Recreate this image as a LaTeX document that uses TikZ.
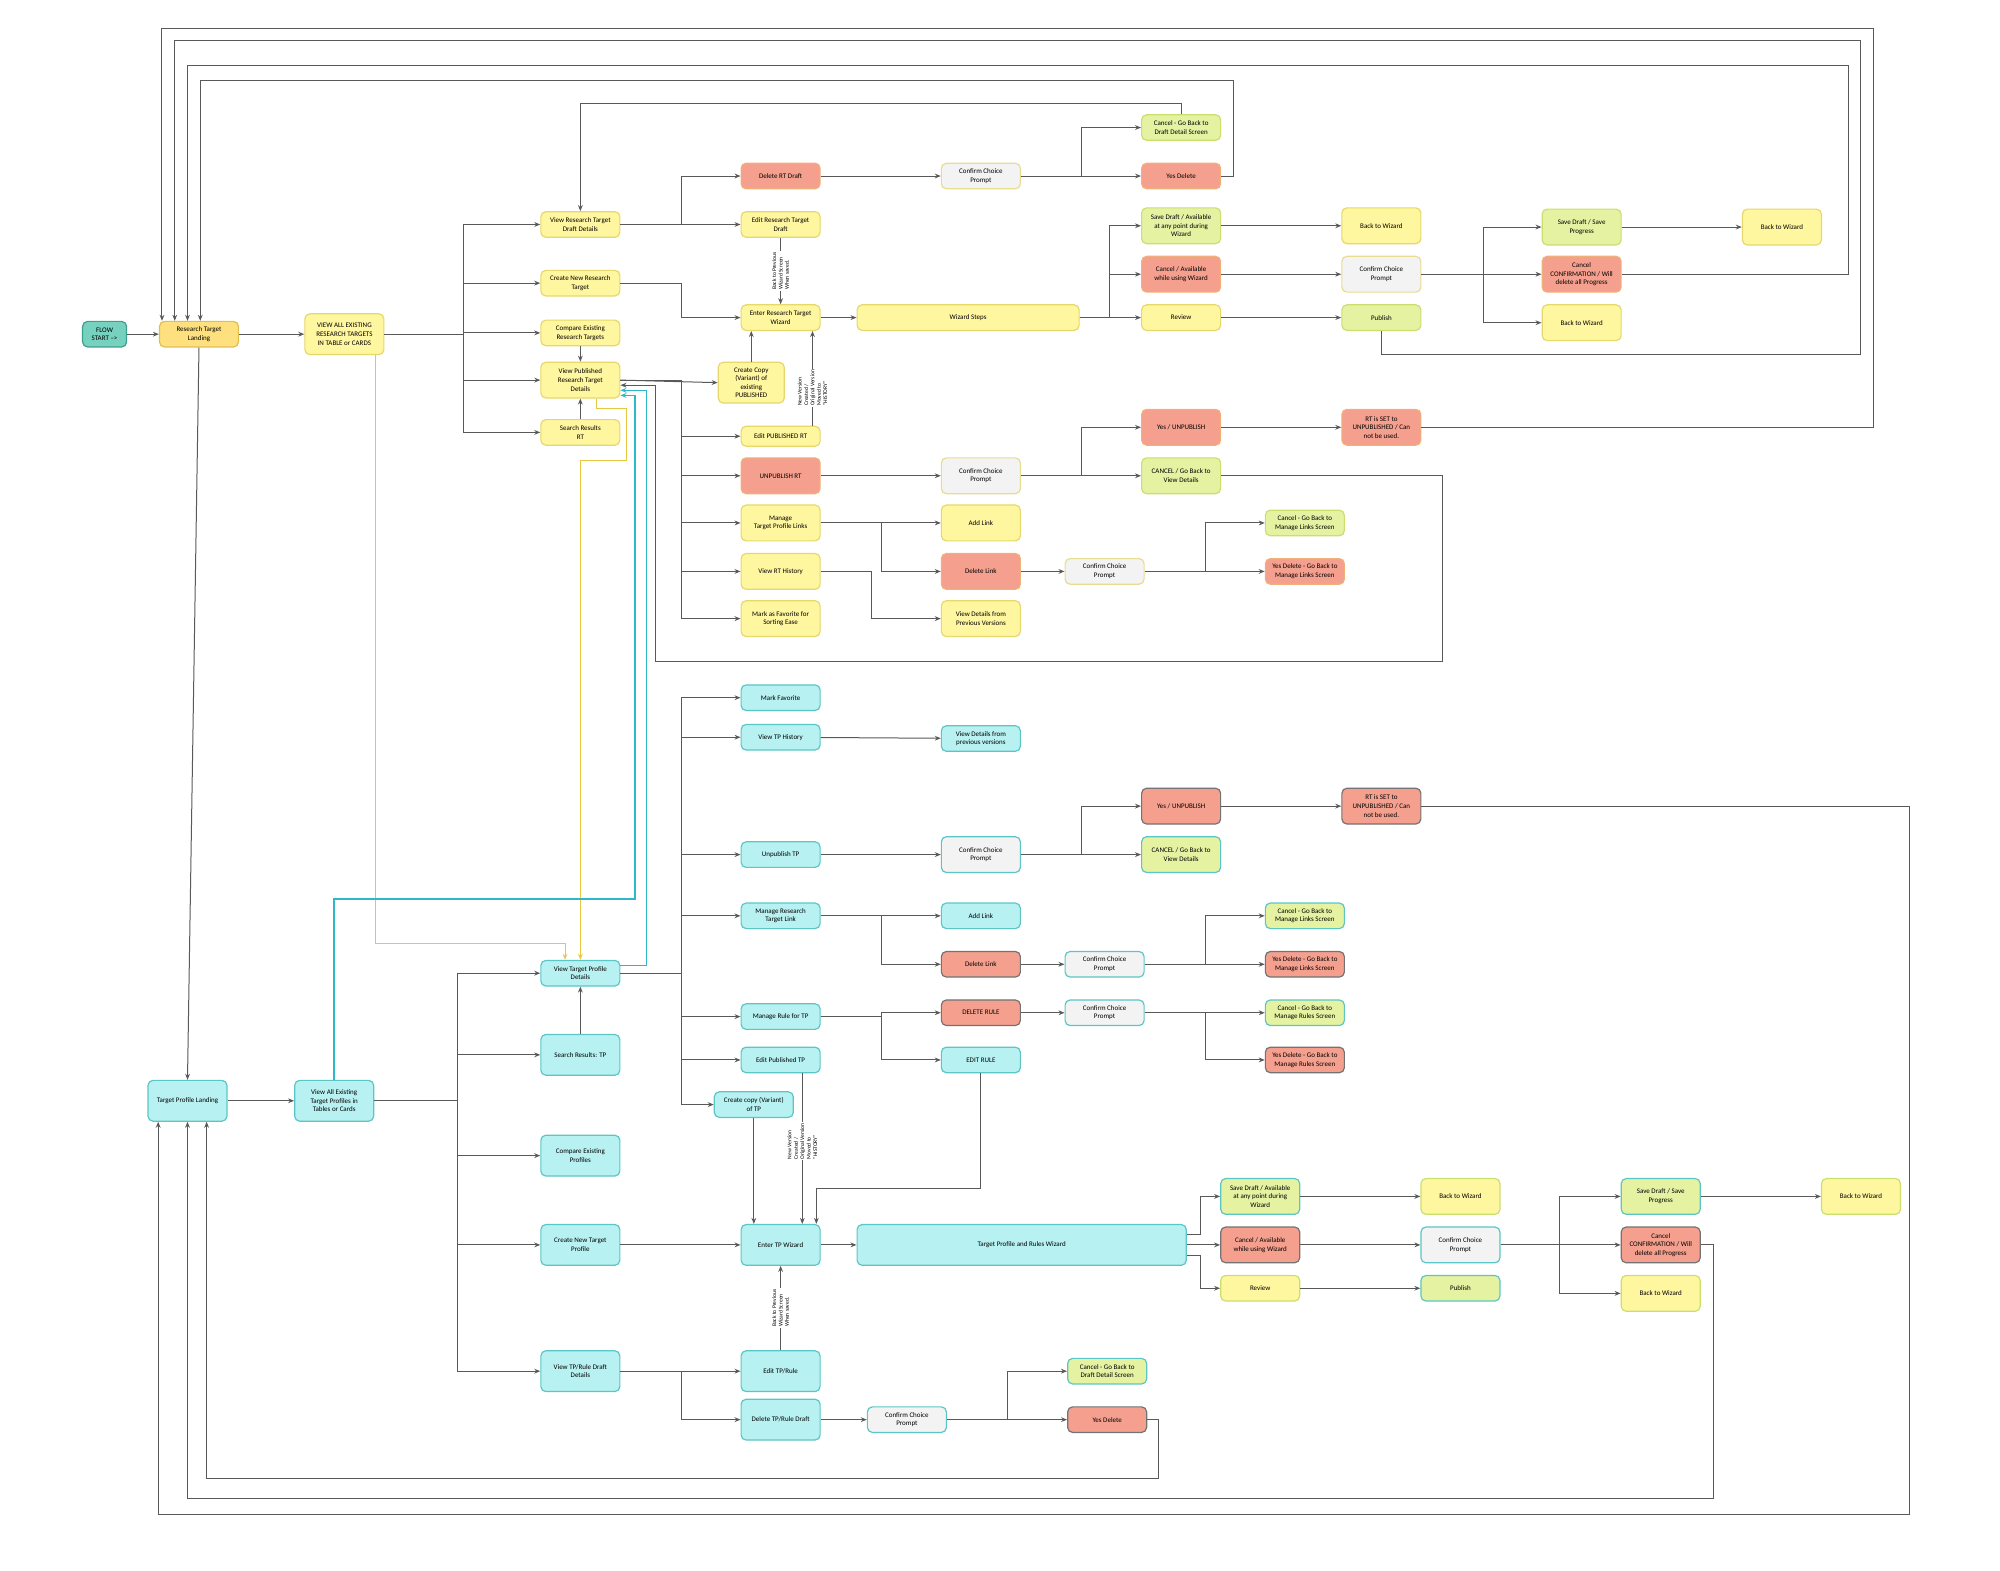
\documentclass[tikz,border=0pt]{standalone}
\usepackage{fontspec}
\setmainfont{Carlito}
\usetikzlibrary{arrows.meta,calc}
\definecolor{cYe}{HTML}{FFF6A0}\definecolor{cYeD}{HTML}{E6D86A}
\definecolor{cOr}{HTML}{FFE07F}\definecolor{cOrD}{HTML}{E2BE50}
\definecolor{cRd}{HTML}{F5A08E}\definecolor{cRdD}{HTML}{F0B07A}
\definecolor{cGr}{HTML}{E4F2A2}\definecolor{cGrD}{HTML}{C9DF6E}
\definecolor{cGy}{HTML}{F3F3F3}\definecolor{cGyD}{HTML}{E8DC90}
\definecolor{cTl}{HTML}{B8F1F1}\definecolor{cTlD}{HTML}{5CC6C6}
\definecolor{cFs}{HTML}{76D1BF}\definecolor{cFsD}{HTML}{3F9E8E}
\definecolor{cYl}{HTML}{E8C840}\definecolor{cTa}{HTML}{2CB8C8}
\newcommand\fs{\fontsize{3.5}{4.3}\selectfont}
\newcommand\fanx[3]{\draw[arr] (#1.east) -- (#2 |- #1.east) |- (#3.west);}
\tikzset{
 b/.style={draw, rounded corners=2.5pt, line width=0.6pt, align=center, font=\fs, inner sep=0.5pt, minimum width=39.5pt, minimum height=12.8pt},
 m/.style={minimum height=17.9pt}, l/.style={minimum height=20.4pt},
 ye/.style={b, fill=cYe, draw=cYeD}, orr/.style={b, fill=cOr, draw=cOrD},
 rd/.style={b, fill=cRd, draw=cRdD}, rdk/.style={b, fill=cRd, draw=black!55},
 gr/.style={b, fill=cGr, draw=cGrD}, grt/.style={b, fill=cGr, draw=cTlD},
 gy/.style={b, fill=cGy, draw=cGyD}, gyt/.style={b, fill=cGy, draw=cTlD},
 tl/.style={b, fill=cTl, draw=cTlD},
 arr/.style={-{Stealth[length=3pt,width=2.4pt]}, line width=0.5pt, draw=black!65},
 lab/.style={font=\fontsize{2.8}{3.2}\selectfont, align=left, rotate=90, fill=white, inner sep=0.5pt}
}
\begin{document}
\begin{tikzpicture}[x=0.6378pt,y=-0.6378pt]
\useasboundingbox (0,0) rectangle (1568,1231);
\foreach \n/\x in {T1/363,T2/534,T3/848,T4/870,T5/1163,T6/691,T7/945,T8/359,T9/790,T10/941,T11/1223,T12/683,X637/637,X629/629,X640/640,Y1/294,r1/127,r2/137,r3/147,r4/157,q1/124,q2/162,X443/443,X468/468,X591/591}
  \coordinate (\n) at (\x,0);
% ---------- top ----------
\node[b, fill=cFs, draw=cFsD, minimum width=22pt] (fs) at (82,262) {FLOW\\START -->};
\node[orr] (rtl) at (156,262) {Research Target\\Landing};
\node[ye,l] (va) at (270,262) {VIEW ALL EXISTING\\RESEARCH TARGETS\\IN TABLE or CARDS};
\node[ye] (vrtd) at (455,176) {View Research Target\\Draft Details};
\node[ye] (cnrt) at (455,222) {Create New Research\\Target};
\node[ye] (cert) at (455,261) {Compare Existing\\Research Targets};
\node[ye,m] (vprt) at (455,298) {View Published\\Research Target\\Details};
\node[ye] (srrt) at (455,339) {Search Results\\RT};
\node[rd] (delrt) at (612,138) {Delete RT Draft};
\node[ye] (editrtd) at (612,176) {Edit Research Target\\Draft};
\node[ye] (ertw) at (612,249) {Enter Research Target\\Wizard};
\node[ye,l,minimum width=33pt] (ccopy) at (589,300) {Create Copy\\(Variant) of\\existing\\PUBLISHED};
\node[ye,minimum height=10pt] (editpub) at (612,342) {Edit PUBLISHED RT};
\node[rd,m] (unpub) at (612,373) {UNPUBLISH RT};
\node[ye,m] (mtpl) at (612,410) {Manage\\Target Profile Links};
\node[ye,m] (vrth) at (612,448) {View RT History};
\node[ye,m] (fav) at (612,485) {Mark as Favorite for\\Sorting Ease};
\node[gy] (conf1) at (769,138) {Confirm Choice\\Prompt};
\node[ye,minimum width=111pt] (wiz) at (759,249) {Wizard Steps};
\node[gy,m] (conf2) at (769,373) {Confirm Choice\\Prompt};
\node[ye,m] (addlink) at (769,410) {Add Link};
\node[rd,m] (dellink) at (769,448) {Delete Link};
\node[ye,m] (vdpv) at (769,485) {View Details from\\Previous Versions};
\node[gy] (conf3) at (866,448) {Confirm Choice\\Prompt};
\node[gr] (cancelgb) at (926,100) {Cancel - Go Back to\\Draft Detail Screen};
\node[rd] (yesdel) at (926,138) {Yes Delete};
\node[gr,m] (savedraft) at (926,177) {Save Draft / Available\\at any point during\\Wizard};
\node[rd,m] (cancelav) at (926,215) {Cancel / Available\\while using Wizard};
\node[ye] (review) at (926,249) {Review};
\node[rd,m] (yesunpub) at (926,335) {Yes / UNPUBLISH};
\node[gr,m] (cancelunpub) at (926,373) {CANCEL / Go Back to\\View Details};
\node[gr] (cgml) at (1023,410) {Cancel - Go Back to\\Manage Links Screen};
\node[rd] (ydml) at (1023,448) {Yes Delete - Go Back to\\Manage Links Screen};
\node[ye,m] (btw1) at (1083,177) {Back to Wizard};
\node[gy,m] (conf4) at (1083,215) {Confirm Choice\\Prompt};
\node[gr] (publish) at (1083,249) {Publish};
\node[rd,m] (rtset) at (1083,335) {RT is SET to\\UNPUBLISHED / Can\\not be used.};
\node[gr,m] (sdsp) at (1240,178) {Save Draft / Save\\Progress};
\node[rd,m] (cconf) at (1240,215) {Cancel\\CONFIRMATION / Will\\delete all Progress};
\node[ye,m] (btw2) at (1240,253) {Back to Wizard};
\node[ye,m] (btw3) at (1397,178) {Back to Wizard};
% ---------- bottom ----------
\node[tl,l] (tpl) at (147,863) {Target Profile Landing};
\node[tl,l] (vaetp) at (262,863) {View All Existing\\Target Profiles in\\Tables or Cards};
\node[tl] (vtpd) at (455,763) {View Target Profile\\Details};
\node[tl,l] (srtp) at (455,827) {Search Results: TP};
\node[tl,l] (cep) at (455,906) {Compare Existing\\Profiles};
\node[tl,l] (cntp) at (455,976) {Create New Target\\Profile};
\node[tl,l] (vtprd) at (455,1075) {View TP/Rule Draft\\Details};
\node[tl] (markfav) at (612,547) {Mark Favorite};
\node[tl] (vtph) at (612,578) {View TP History};
\node[tl] (unpubtp) at (612,670) {Unpublish TP};
\node[tl] (mrtl) at (612,718) {Manage Research\\Target Link};
\node[tl] (mrtp) at (612,797) {Manage Rule for TP};
\node[tl] (eptp) at (612,831) {Edit Published TP};
\node[tl] (cctp) at (591,866) {Create copy (Variant)\\of TP};
\node[tl,l] (entertp) at (612,976) {Enter TP Wizard};
\node[tl,l] (edittpr) at (612,1075) {Edit TP/Rule};
\node[tl,l] (deltpr) at (612,1113) {Delete TP/Rule Draft};
\node[tl] (vdpv2) at (769,579) {View Details from\\previous versions};
\node[gyt,m] (conf5) at (769,670) {Confirm Choice\\Prompt};
\node[tl] (addlink2) at (769,718) {Add Link};
\node[rdk] (dellink2) at (769,756) {Delete Link};
\node[rdk] (delrule) at (769,794) {DELETE RULE};
\node[tl] (editrule) at (769,831) {EDIT RULE};
\node[tl,l,minimum width=164.6pt] (tprw) at (801,976) {Target Profile and Rules Wizard};
\node[gyt] (conf6) at (866,756) {Confirm Choice\\Prompt};
\node[gyt] (conf7) at (866,794) {Confirm Choice\\Prompt};
\node[rdk,m] (yesunpub2) at (926,632) {Yes / UNPUBLISH};
\node[grt,m] (cancelunpub2) at (926,670) {CANCEL / Go Back to\\View Details};
\node[rdk,m] (rtset2) at (1083,632) {RT is SET to\\UNPUBLISHED / Can\\not be used.};
\node[grt] (cgml2) at (1023,718) {Cancel - Go Back to\\Manage Links Screen};
\node[rdk] (ydml2) at (1023,756) {Yes Delete - Go Back to\\Manage Links Screen};
\node[grt] (cgmr) at (1023,794) {Cancel - Go Back to\\Manage Rules Screen};
\node[rdk] (ydmr) at (1023,831) {Yes Delete - Go Back to\\Manage Rules Screen};
\node[grt,m] (savedraft2) at (988,938) {Save Draft / Available\\at any point during\\Wizard};
\node[rdk,m] (cancelav2) at (988,976) {Cancel / Available\\while using Wizard};
\node[ye,draw=cGrD] (review2) at (988,1010) {Review};
\node[ye,m,draw=cGrD] (btw4) at (1145,938) {Back to Wizard};
\node[gyt,m] (conf8) at (1145,976) {Confirm Choice\\Prompt};
\node[grt] (publish2) at (1145,1010) {Publish};
\node[grt,m] (sdsp2) at (1302,938) {Save Draft / Save\\Progress};
\node[rdk,m] (cconf2) at (1302,976) {Cancel\\CONFIRMATION / Will\\delete all Progress};
\node[ye,m,draw=cGrD] (btw5) at (1302,1014) {Back to Wizard};
\node[ye,m,draw=cGrD] (btw6) at (1459,938) {Back to Wizard};
\node[gyt] (conf9) at (711,1113) {Confirm Choice\\Prompt};
\node[grt] (cgdd2) at (868,1075) {Cancel - Go Back to\\Draft Detail Screen};
\node[rdk] (yesdel2) at (868,1113) {Yes Delete};
% ---------- top connectors ----------
\draw[arr] (fs) -- (rtl);
\draw[arr] (rtl) -- (va);
\foreach \t in {vrtd,cnrt,cert,vprt,srrt} {\fanx{va}{T1}{\t}}
\fanx{vrtd}{T2}{delrt} \fanx{vrtd}{T2}{editrtd}
\fanx{cnrt}{T2}{ertw}
\draw[arr] (cert) -- (vprt);
\draw[arr] (srrt) -- (vprt);
\draw[arr] (editrtd) -- (ertw) node[lab, midway] {Back to Previous\\Wizard Screen\\When saved.};
\draw[arr] (ccopy.north) -- (ccopy.north |- ertw.south);
\draw[arr] (X637 |- editpub.north) -- (X637 |- ertw.south) node[lab, pos=0.4] {New Version\\Created /\\Original Version\\Moved to\\"HISTORY"};
\draw[arr] (vprt.east) -- (ccopy.west);
\foreach \t in {editpub,unpub,mtpl,vrth,fav} {\fanx{vprt}{T2}{\t}}
\draw[arr] (delrt) -- (conf1);
\fanx{conf1}{T3}{cancelgb} \fanx{conf1}{T3}{yesdel}
\draw[arr] (ertw) -- (wiz);
\fanx{wiz}{T4}{savedraft} \fanx{wiz}{T4}{cancelav} \fanx{wiz}{T4}{review}
\draw[arr] (savedraft) -- (btw1);
\draw[arr] (cancelav) -- (conf4);
\draw[arr] (review) -- (publish);
\fanx{conf4}{T5}{sdsp} \fanx{conf4}{T5}{cconf} \fanx{conf4}{T5}{btw2}
\draw[arr] (sdsp) -- (btw3);
\draw[arr] (unpub) -- (conf2);
\fanx{conf2}{T3}{yesunpub} \fanx{conf2}{T3}{cancelunpub}
\draw[arr] (yesunpub) -- (rtset);
\draw[arr] (mtpl) -- (addlink);
\fanx{mtpl}{T6}{dellink}
\draw[arr] (dellink) -- (conf3);
\fanx{conf3}{T7}{cgml} \fanx{conf3}{T7}{ydml}
\fanx{vrth}{T12}{vdpv}
% loops
\draw[arr] (rtset.east) -- (1469,335) -- (1469,22) -- (127,22) -- (r1 |- rtl.north);
\draw[arr] (publish.south) -- (1083,278) -- (1459,278) -- (1459,32) -- (137,32) -- (r2 |- rtl.north);
\draw[arr] (cconf.east) -- (1449,215) -- (1449,51) -- (147,51) -- (r3 |- rtl.north);
\draw[arr] (yesdel.east) -- (967,138) -- (967,63) -- (157,63) -- (r4 |- rtl.north);
\draw[arr] (cancelgb.north) -- (926,81) -- (455,81) -- (vrtd.north);
\draw[arr] (cancelunpub.east) -- (1131,373) -- (1131,519) -- (514,519) -- (514,302) -- ($(vprt.east)+(0,4)$);
\draw[arr, draw=cYl, color=cYl] (Y1 |- va.south) -- (294,740) -- (443,740) -- (X443 |- vtpd.north);
\draw[arr, draw=cYl, color=cYl] (X468 |- vprt.south) -- (468,320) -- (491,320) -- (491,361) -- (455,361) -- (vtpd.north);
\draw[arr, draw=cTa, color=cTa, line width=0.8pt] (vaetp.north) -- (262,705) -- (498,705) -- (498,310) -- ($(vprt.east)+(0,12)$);
\draw[arr, draw=cTa, color=cTa, line width=0.8pt] ($(vtpd.east)+(0,-6)$) -- (507,757) -- (507,306) -- ($(vprt.east)+(0,8)$);
\draw[arr] (rtl.south) -- (tpl.north);
% ---------- bottom connectors ----------
\draw[arr] (tpl) -- (vaetp);
\foreach \t in {vtpd,srtp,cep,cntp,vtprd} {\fanx{vaetp}{T8}{\t}}
\draw[arr] (srtp) -- (vtpd);
\foreach \t in {markfav,vtph,unpubtp,mrtl,mrtp,eptp,cctp} {\fanx{vtpd}{T2}{\t}}
\draw[arr] (vtph) -- (vdpv2);
\draw[arr] (unpubtp) -- (conf5);
\fanx{conf5}{T3}{yesunpub2} \fanx{conf5}{T3}{cancelunpub2}
\draw[arr] (yesunpub2) -- (rtset2);
\draw[arr] (mrtl) -- (addlink2);
\fanx{mrtl}{T6}{dellink2}
\draw[arr] (dellink2) -- (conf6);
\fanx{conf6}{T7}{cgml2} \fanx{conf6}{T7}{ydml2}
\fanx{mrtp}{T6}{delrule} \fanx{mrtp}{T6}{editrule}
\draw[arr] (delrule) -- (conf7);
\fanx{conf7}{T7}{cgmr} \fanx{conf7}{T7}{ydmr}
\draw[arr] (X591 |- cctp.south) -- (X591 |- entertp.north);
\draw[arr] (X629 |- eptp.south) -- (X629 |- entertp.north) node[lab, pos=0.45] {New Version\\Created /\\Original Version\\Moved to\\"HISTORY"};
\draw[arr] (editrule.south) -- (769,932) -- (640,932) -- (X640 |- entertp.north);
\draw[arr] (cntp) -- (entertp);
\draw[arr] (entertp) -- (tprw);
\draw[arr] ($(tprw.east)+(0,-8)$) -- (941,968) |- (savedraft2.west);
\draw[arr] (tprw.east) -- (cancelav2.west);
\draw[arr] ($(tprw.east)+(0,8)$) -- (941,984) |- (review2.west);
\draw[arr] (savedraft2) -- (btw4);
\draw[arr] (cancelav2) -- (conf8);
\draw[arr] (review2) -- (publish2);
\fanx{conf8}{T11}{sdsp2} \fanx{conf8}{T11}{cconf2} \fanx{conf8}{T11}{btw5}
\draw[arr] (sdsp2) -- (btw6);
\draw[arr] (edittpr) -- (entertp) node[lab, midway] {Back to Previous\\Wizard Screen\\When saved.};
\fanx{vtprd}{T2}{edittpr} \fanx{vtprd}{T2}{deltpr}
\draw[arr] (deltpr) -- (conf9);
\fanx{conf9}{T9}{cgdd2} \fanx{conf9}{T9}{yesdel2}
\draw[arr] (rtset2.east) -- (1497,632) -- (1497,1187) -- (124,1187) -- (q1 |- tpl.south);
\draw[arr] (cconf2.east) -- (1343,976) -- (1343,1175) -- (147,1175) -- (tpl.south);
\draw[arr] (yesdel2.east) -- (908,1113) -- (908,1159) -- (162,1159) -- (q2 |- tpl.south);
\end{tikzpicture}
\end{document}
